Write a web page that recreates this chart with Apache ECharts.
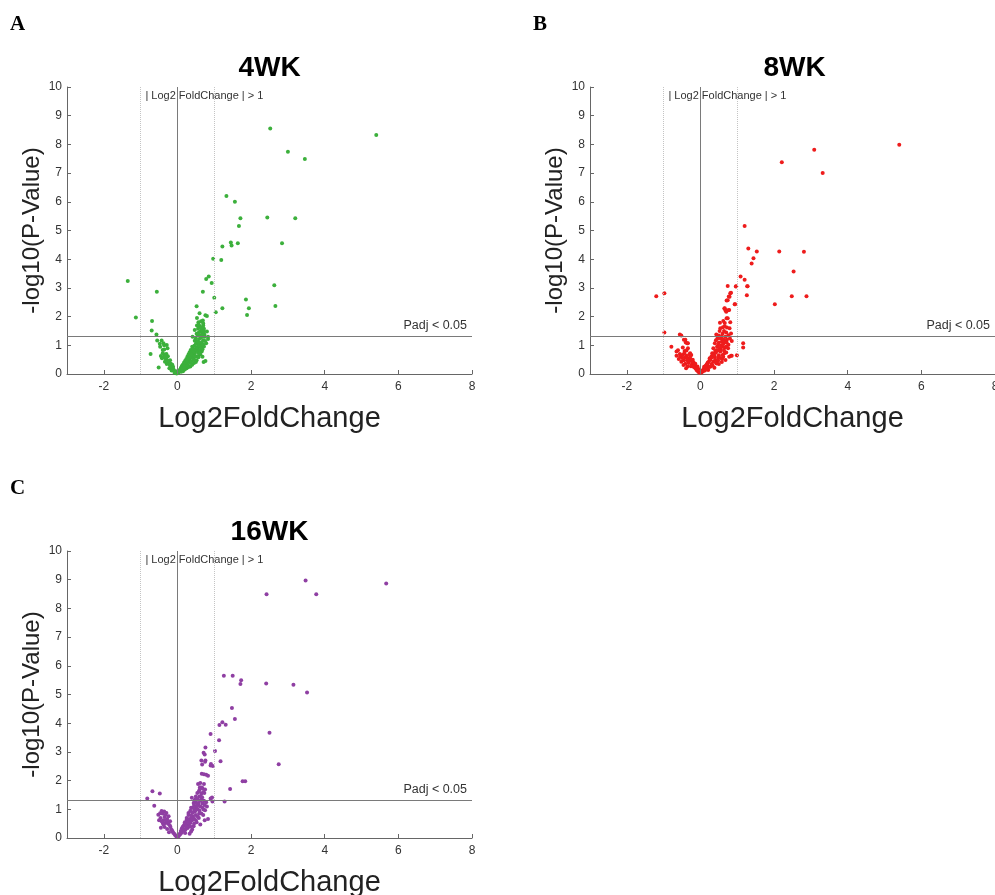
<!DOCTYPE html>
<html>
<head>
<meta charset="utf-8">
<script src="https://cdn.jsdelivr.net/npm/echarts@6/dist/echarts.min.js"></script>
<style>
  html, body { margin: 0; padding: 0; background: #fff; }
  #chart { width: 995px; height: 895px; }
</style>
</head>
<body>
<div id="chart"></div>
<script>
// x ticks / labels shown on every panel
const xTicks = [-2, 0, 2, 4, 6, 8];
const panelTitles = ["4WK", "8WK", "16WK"];
const panelLetters = ["A", "B", "C"];
const padjCut = 1.3; // -log10(0.05)
const fcCut = 1;

// [log2FoldChange, -log10(P)]
const points4wk = [
  [2.52,8.55],[5.40,8.33],[3.00,7.74],[3.46,7.49],[1.33,6.20],[1.56,6.00],[1.71,5.43],[2.44,5.45],[3.20,5.43],
  [1.67,5.16],[1.45,4.58],[1.47,4.48],[1.64,4.56],[2.84,4.56],[1.22,4.44],[0.97,4.02],[1.19,3.97],[0.85,3.40],
  [0.78,3.31],[0.93,3.17],[0.69,2.87],[1.00,2.66],[2.63,3.09],[1.86,2.60],[1.94,2.29],[1.89,2.06],[2.66,2.37],
  [1.22,2.29],[1.04,2.15],[0.52,2.36],[-1.35,3.24],[-0.56,2.87],[-1.13,1.97],
  [-0.69,1.85],[-0.70,1.52],[-0.57,1.38],[-0.55,1.17],[-0.43,1.17],[-0.38,1.07],[-0.29,1.01],[-0.47,0.95],
  [-0.40,0.84],[-0.73,0.70],[-0.42,0.55],[-0.33,0.55],[-0.25,0.45],[-0.29,0.35],[-0.20,0.30],[-0.51,0.23],
  [-0.15,0.20],[-0.10,0.12],[-0.06,0.06],[-0.36,0.85],[-0.27,0.90],[-0.45,0.63],[-0.37,0.60],[-0.30,0.52],
  [-0.34,0.43],[-0.24,0.41],[-0.18,0.36],[-0.12,0.25],[-0.22,0.20],[-0.16,0.12],[-0.08,0.04],[-0.30,0.70],
  [-0.26,0.62],[-0.20,0.48],[-0.14,0.32],[-0.04,0.10],
  [-0.02,0.02],[-0.07,0.09],[-0.11,0.17],[-0.13,0.20],[-0.17,0.26],[-0.21,0.34],[-0.23,0.38],[-0.27,0.46],
  [-0.31,0.58],[-0.32,0.62],[-0.34,0.68],[-0.40,0.72],[-0.36,1.00],[-0.48,1.05],
  [0.60,2.12],[0.64,1.84],[0.69,1.86],[0.76,2.05],[0.80,2.02],[0.53,1.69],[0.60,1.66],[0.70,1.69],[0.72,1.58],
  [0.47,1.53],[0.62,1.48],[0.80,1.48],[0.83,1.30],[0.83,1.22],[0.41,1.30],[0.47,1.16],[0.54,1.07],[0.63,1.01],
  [0.70,1.18],[0.78,1.07],[0.40,0.95],[0.45,0.84],[0.56,0.78],[0.66,0.78],[0.35,0.66],[0.43,0.55],[0.52,0.48],
  [0.71,0.42],[0.76,0.45],[0.26,0.38],[0.35,0.26],[0.16,0.14],
  [0.03,0.05],[0.06,0.10],[0.08,0.16],[0.10,0.22],[0.12,0.28],[0.15,0.33],[0.18,0.40],[0.21,0.46],[0.24,0.52],
  [0.27,0.60],[0.30,0.68],[0.33,0.76],[0.36,0.84],[0.10,0.08],[0.15,0.10],[0.20,0.16],[0.25,0.20],[0.30,0.24],
  [0.40,0.32],[0.45,0.38],[0.50,0.42],[0.20,0.26],[0.24,0.32],[0.29,0.44],[0.33,0.50],[0.38,0.58],[0.42,0.66],
  [0.47,0.72],[0.51,0.80],[0.55,0.88],[0.59,0.94],[0.38,0.74],[0.42,0.88],[0.46,0.98],[0.50,1.05],[0.55,1.14],
  [0.59,1.22],[0.64,1.26],[0.68,1.32],[0.73,1.38],[0.50,1.25],[0.55,1.36],[0.58,1.45],[0.66,1.55],[0.74,1.30],
  [0.62,0.68],[0.68,0.60],[0.57,0.58],[0.48,0.60],[0.65,0.92],[0.72,0.96],[0.53,1.95],[0.57,1.80],
  [0.05,0.12],[0.09,0.20],[0.13,0.24],[0.17,0.30],[0.22,0.38],[0.26,0.45],[0.31,0.55],[0.35,0.62],[0.39,0.68],
  [0.44,0.78],[0.48,0.86],[0.52,0.92],[0.57,1.00],[0.60,1.08],[0.66,1.10],[0.70,1.02],[0.75,1.15],[0.62,1.34],
  [0.68,1.42],[0.72,1.48],[0.52,1.40],[0.56,1.58],[0.64,1.62],[0.70,1.76],[0.58,1.72],[0.12,0.15],[0.18,0.20],
  [0.23,0.26],[0.28,0.30],[0.34,0.38],[0.38,0.44],[0.44,0.50],[0.54,0.62],[0.58,0.72],[0.62,0.82],[0.68,0.86],
  [0.46,0.62]
];

const points8wk = [
  [5.40,7.99],[3.09,7.81],[2.21,7.38],[3.32,7.00],[1.20,5.16],[1.30,4.37],[1.53,4.27],[1.44,4.03],[1.39,3.85],
  [2.14,4.27],[2.81,4.26],[2.53,3.57],[2.48,2.71],[2.88,2.71],[2.02,2.43],[1.09,3.40],[1.20,3.28],[1.28,3.06],
  [1.26,2.74],[0.96,3.05],[0.74,3.07],[0.81,2.81],[0.77,2.70],[0.71,2.56],[0.93,2.43],[0.65,2.28],[0.68,2.21],
  [0.78,2.23],[0.71,1.94],[-1.20,2.71],[-0.98,2.81],[-0.98,1.45],[1.16,1.07],[1.16,0.92],[0.99,0.65],[0.83,0.64],
  [0.78,0.60],[-0.79,0.95],
  [-0.56,1.38],[-0.52,1.34],[-0.45,1.19],[-0.40,1.10],[-0.34,1.07],[-0.61,0.83],[-0.48,0.92],[-0.43,0.80],
  [-0.34,0.90],[-0.65,0.64],[-0.55,0.62],[-0.49,0.66],[-0.38,0.64],[-0.30,0.69],[-0.25,0.66],[-0.35,0.55],
  [-0.28,0.52],[-0.45,0.48],[-0.21,0.50],[-0.41,0.36],[-0.32,0.38],[-0.23,0.34],[-0.17,0.31],[-0.26,0.27],
  [-0.15,0.22],[-0.11,0.15],[-0.06,0.08],[-0.35,0.26],[-0.52,0.43],[-0.59,0.52],[-0.46,0.31],[-0.39,0.20],
  [-0.19,0.41],[-0.14,0.36],[-0.08,0.26],[-0.05,0.17],[-0.28,0.72],[-0.65,0.78],[-0.36,1.07],[-0.41,1.19],
  [-0.03,0.04],[-0.09,0.12],[-0.13,0.20],[-0.19,0.25],[-0.22,0.44],[-0.30,0.45],[-0.36,0.48],[-0.42,0.58],
  [-0.50,0.56],[-0.56,0.70],[-0.44,0.72],[-0.38,0.82],[-0.28,0.60],
  [0.97,3.06],[1.27,3.06],[0.83,2.83],[0.79,2.69],[0.74,2.57],[0.94,2.43],[0.66,2.29],[0.75,2.22],[0.70,2.17],
  [0.74,1.94],[0.81,1.80],[0.53,1.79],[0.66,1.78],[0.61,1.63],[0.72,1.62],[0.79,1.59],[0.54,1.59],[0.83,1.41],
  [0.43,1.38],[0.50,1.34],[0.46,1.24],[0.55,1.24],[0.63,1.19],[0.80,1.24],[0.85,1.15],[0.71,1.10],[0.39,1.07],
  [0.48,1.01],[0.57,0.99],[0.66,0.92],[0.75,0.90],[0.35,0.90],[0.44,0.83],[0.54,0.78],[0.65,0.72],[0.85,0.64],
  [0.32,0.72],[0.39,0.60],[0.48,0.57],[0.59,0.52],[0.68,0.49],[0.25,0.49],[0.35,0.43],[0.44,0.37],[0.19,0.31],
  [0.28,0.26],[0.12,0.20],[0.21,0.14],[0.07,0.10],[0.03,0.05],
  [0.15,0.30],[0.20,0.40],[0.25,0.55],[0.30,0.62],[0.35,0.70],[0.40,0.80],[0.45,0.95],[0.50,1.10],[0.10,0.25],
  [0.16,0.22],[0.30,0.35],[0.40,0.50],[0.50,0.65],[0.55,0.85],[0.60,0.95],[0.38,0.22],[0.50,0.35],[0.58,0.42],
  [0.62,0.60],[0.70,0.75],[0.42,1.18],[0.60,1.40],[0.68,1.30],[0.58,1.12],[0.64,1.50],[0.70,1.45],
  [0.05,0.12],[0.09,0.18],[0.13,0.26],[0.17,0.34],[0.22,0.42],[0.27,0.50],[0.32,0.58],[0.37,0.66],[0.42,0.74],
  [0.47,0.82],[0.52,0.90],[0.56,0.96],[0.62,1.05],[0.67,1.12],[0.72,1.20],[0.76,1.35],[0.58,1.30],[0.52,1.50],
  [0.66,1.66],[0.62,1.85],[0.12,0.12],[0.18,0.18],[0.24,0.24],[0.33,0.30],[0.42,0.40],[0.48,0.46],[0.54,0.56],
  [0.60,0.66],[0.64,0.82],[0.70,0.96],[0.76,1.02]
];

const points16wk = [
  [5.67,8.87],[3.48,8.97],[2.42,8.49],[3.77,8.49],[1.26,5.65],[1.50,5.65],[1.73,5.50],[1.71,5.37],[2.41,5.38],
  [3.15,5.34],[3.52,5.07],[1.48,4.53],[1.56,4.15],[1.22,4.03],[1.31,3.95],[1.14,3.94],[2.50,3.67],[0.90,3.62],
  [1.13,3.41],[1.02,3.03],[0.76,3.15],[0.71,2.97],[0.74,2.91],[0.76,2.70],[0.67,2.56],[0.90,2.53],[0.96,2.51],
  [1.17,2.67],[2.75,2.57],[1.77,1.98],[1.84,1.98],[1.43,1.71],[1.28,1.27],[0.94,1.41],
  [-0.68,1.63],[-0.48,1.55],[-0.82,1.38],[-0.63,1.12],[-0.43,0.94],[-0.36,0.92],[-0.30,0.87],[-0.52,0.81],
  [-0.41,0.85],[-0.46,0.70],[-0.35,0.73],[-0.28,0.66],[-0.40,0.52],[-0.32,0.52],[-0.25,0.50],[-0.35,0.38],
  [-0.28,0.31],[-0.19,0.38],[-0.15,0.27],[-0.11,0.17],[-0.06,0.10],[-0.23,0.20],[-0.45,0.36],[-0.20,0.58],
  [-0.38,0.62],[-0.24,0.76],
  [-0.03,0.05],[-0.08,0.14],[-0.13,0.22],[-0.17,0.30],[-0.21,0.44],[-0.26,0.56],[-0.30,0.62],[-0.33,0.80],
  [-0.38,0.46],[-0.43,0.58],[-0.47,0.86],[-0.50,0.62],
  [0.65,2.70],[0.75,2.66],[0.91,2.58],[0.66,2.24],[0.72,2.22],[0.78,2.20],[0.83,2.17],[0.56,1.88],[0.62,1.92],
  [0.72,1.88],[0.61,1.77],[0.68,1.73],[0.75,1.69],[0.73,1.57],[0.54,1.57],[0.90,1.38],[0.95,1.27],[0.39,1.40],
  [0.48,1.34],[0.44,1.22],[0.57,1.16],[0.66,1.34],[0.80,1.10],[0.71,0.99],[0.37,1.05],[0.48,0.93],[0.59,0.85],
  [0.75,0.97],[0.83,0.66],[0.74,0.62],[0.30,0.87],[0.39,0.70],[0.50,0.62],[0.62,0.47],[0.25,0.64],[0.35,0.52],
  [0.44,0.41],[0.19,0.47],[0.28,0.35],[0.37,0.23],[0.14,0.29],[0.21,0.17],[0.07,0.12],[0.03,0.06],
  [0.20,0.55],[0.25,0.70],[0.30,0.80],[0.35,0.95],[0.40,1.05],[0.45,1.15],[0.50,1.25],[0.55,1.35],[0.60,1.45],
  [0.65,1.55],[0.15,0.40],[0.22,0.30],[0.30,0.45],[0.35,0.60],[0.42,0.75],[0.50,0.80],[0.55,1.00],[0.62,1.10],
  [0.68,1.20],[0.72,1.30],[0.10,0.20],[0.45,0.50],[0.52,0.55],[0.58,0.70],[0.65,0.85],[0.70,0.80],[0.40,0.30],
  [0.33,0.15],[0.50,1.45],[0.58,1.62],[0.63,1.45],[0.47,0.95],[0.53,1.12],
  [0.05,0.14],[0.09,0.24],[0.12,0.34],[0.17,0.42],[0.22,0.50],[0.27,0.58],[0.32,0.66],[0.37,0.78],[0.42,0.88],
  [0.47,1.02],[0.52,1.08],[0.57,1.22],[0.62,1.30],[0.67,1.42],[0.70,1.60],[0.66,1.76],[0.60,1.68],[0.52,1.36],
  [0.46,1.30],[0.12,0.18],[0.18,0.26],[0.24,0.40],[0.30,0.55],[0.35,0.40],[0.40,0.62],[0.45,0.68],[0.55,0.75],
  [0.60,0.95],[0.68,1.05],[0.74,1.15],[0.78,1.25],[0.40,0.90],[0.44,1.05]
];

const panelData = [points4wk, points8wk, points16wk];
const panelColors = ["#3cb03c", "#ee1c1c", "#8f3fa3"];

const font = "Liberation Sans, Arial, sans-serif";
const grids = [
  { left: 67, top: 87, width: 405, height: 287, outerBoundsMode: "none" },
  { left: 590, top: 87, width: 405, height: 287, outerBoundsMode: "none" },
  { left: 67, top: 551, width: 405, height: 287, outerBoundsMode: "none" },
];

let myChart = echarts.init(document.getElementById("chart"));

let xAxes = [], yAxes = [], series = [], graphics = [];
grids.forEach(function (g, i) {
  xAxes.push({
    gridIndex: i,
    type: "value",
    min: -3,
    max: 8,
    name: "Log2FoldChange",
    nameLocation: "middle",
    nameGap: 30,
    nameTextStyle: { fontSize: 29, color: "#222", fontFamily: font },
    axisLine: { lineStyle: { color: "#666" } },
    axisTick: { inside: true, length: 4, customValues: xTicks, lineStyle: { color: "#666" } },
    axisLabel: { customValues: xTicks, fontSize: 12, color: "#333", margin: 7, fontFamily: font },
    splitLine: { show: false },
  });
  yAxes.push({
    gridIndex: i,
    type: "value",
    min: 0,
    max: 10,
    interval: 1,
    name: "-log10(P-Value)",
    nameLocation: "middle",
    nameGap: 22,
    nameTextStyle: { fontSize: 24, color: "#222", fontFamily: font },
    axisLine: { show: true, onZero: false, lineStyle: { color: "#666" } },
    axisTick: { show: true, inside: true, length: 4, lineStyle: { color: "#666" } },
    axisLabel: { fontSize: 12, color: "#333", margin: 5, fontFamily: font },
    splitLine: { show: false },
  });
  series.push({
    type: "scatter",
    xAxisIndex: i,
    yAxisIndex: i,
    symbolSize: 4,
    itemStyle: { color: panelColors[i], opacity: 1 },
    data: panelData[i],
    markLine: {
      silent: true,
      symbol: "none",
      data: [
        {
          yAxis: padjCut,
          lineStyle: { color: "#7a7a7a", type: "solid", width: 1 },
          label: {
            show: true,
            position: "insideEndTop",
            formatter: "Padj < 0.05",
            fontSize: 12.5,
            color: "#333",
            fontFamily: font,
          },
        },
        { xAxis: 0, lineStyle: { color: "#7a7a7a", type: "solid", width: 1 }, label: { show: false } },
        { xAxis: -fcCut, lineStyle: { color: "#c4c4c4", type: "dotted", width: 1 }, label: { show: false } },
        { xAxis: fcCut, lineStyle: { color: "#c4c4c4", type: "dotted", width: 1 }, label: { show: false } },
      ],
    },
    markPoint: {
      silent: true,
      symbol: "circle",
      symbolSize: 0,
      data: [{ coord: [-0.87, 9.7] }],
      label: {
        show: true,
        position: "right",
        distance: 0,
        formatter: "| Log2 FoldChange | > 1",
        fontSize: 11,
        color: "#333",
        fontFamily: font,
      },
    },
  });
  graphics.push({
    type: "text",
    x: g.left + g.width / 2 + (i === 1 ? 2 : 0),
    y: g.top - 19,
    style: {
      text: panelTitles[i],
      font: "bold 28px " + font,
      fill: "#000",
      textAlign: "center",
      textVerticalAlign: "middle",
    },
  });
  graphics.push({
    type: "text",
    x: i === 1 ? 533 : 10,
    y: g.top - 62,
    style: {
      text: panelLetters[i],
      font: "bold 21px Liberation Serif, Times New Roman, serif",
      fill: "#000",
      textAlign: "left",
      textVerticalAlign: "middle",
    },
  });
});

let option = {
  animation: false,
  backgroundColor: "#fff",
  grid: grids,
  xAxis: xAxes,
  yAxis: yAxes,
  series: series,
  graphic: graphics,
};
myChart.setOption(option);
</script>
</body>
</html>
